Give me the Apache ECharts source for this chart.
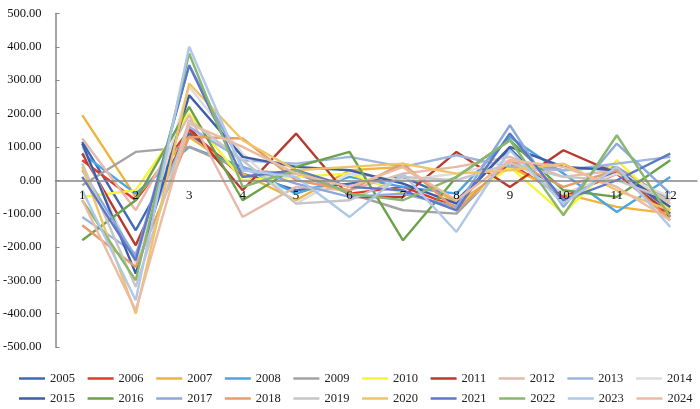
<!DOCTYPE html>
<html>
<head>
<meta charset="utf-8">
<script src="https://cdn.jsdelivr.net/npm/echarts@6/dist/echarts.min.js"></script>
<style>html,body{margin:0;padding:0;background:#fff}#c{width:700px;height:409px}</style>
</head>
<body>
<div id="c"></div>
<script>
const months = ['1','2','3','4','5','6','7','8','9','10','11','12'];
const years = ['2005','2006','2007','2008','2009','2010','2011','2012','2013','2014',
               '2015','2016','2017','2018','2019','2020','2021','2022','2023','2024'];
const yTicks = [-500,-400,-300,-200,-100,0,100,200,300,400,500];

const v2005 = [115, -150, 140, 20, -30, -10, 10, -60, 95, -60, 30, -90];
const v2006 = [60, -60, 150, 10, 30, -40, -20, -80, 50, -50, 20, -110];
const v2007 = [195, -50, 130, 20, -60, 30, 40, -70, 40, -40, -80, -100];
const v2008 = [80, -40, 100, 40, -40, 10, -20, -40, 130, 20, -95, 10];
const v2009 = [-15, 85, 100, 30, 20, -40, -90, -100, 60, 30, 40, -60];
const v2010 = [-50, -30, 200, 0, 10, 20, -40, -80, 40, -100, 60, -90];
const v2011 = [80, -195, 160, -30, 140, -50, -50, 85, -20, 90, 20, -100];
const v2012 = [125, -90, 195, -110, -20, -30, 20, 40, 70, 10, 30, -70];
const v2013 = [-110, -220, 160, 60, 50, 70, 40, 75, 40, 30, 50, 70];
const v2014 = [100, -250, 280, 80, -70, 20, 0, 20, 60, -40, 20, -50];
const v2015 = [110, -280, 255, 70, 40, 30, -10, -70, 100, 40, 30, -80];
const v2016 = [-180, -60, 220, -60, 40, 85, -180, 10, 120, -30, -50, 60];
const v2017 = [30, -230, 345, 40, -10, -50, -40, -80, 165, -80, 110, -40];
const v2018 = [-135, -260, 130, 125, 0, -30, 50, -90, 60, -20, 30, -120];
const v2019 = [50, -320, 180, 60, -70, -60, 10, 0, 50, 10, 0, -60];
const v2020 = [40, -400, 290, 120, 30, 40, 50, 20, 30, 50, -30, -90];
const v2021 = [10, -240, 345, 10, 30, -20, -30, -90, 140, -60, 0, 80];
const v2022 = [-60, -300, 380, -20, 30, -40, -60, 10, 120, -105, 135, -110];
const v2023 = [-30, -360, 400, 30, 10, -110, 20, -155, 90, -70, 40, -140];
const v2024 = [-60, -390, 170, 100, 20, -20, 40, -60, 60, 40, -20, -120];

const values = [v2005,v2006,v2007,v2008,v2009,v2010,v2011,v2012,v2013,v2014,
                v2015,v2016,v2017,v2018,v2019,v2020,v2021,v2022,v2023,v2024];
const colors = ['#3F69B5','#E8372B','#F0B43C','#4AA6E2','#A3A3A3','#F7F53A','#B73A2C','#E6B9AB','#9CB6E0','#DCDCDC',
                '#3C5DA8','#6BA24A','#8DA8DC','#E59E6B','#C6C6C6','#F0C465','#5D78C6','#88B870','#AFC7E8','#EBBBA3'];

const font = 'Liberation Serif';
const gridTop = 13.5, gridBottom = 62, H = 409;
const plotH = H - gridTop - gridBottom;
const chart = echarts.init(document.getElementById('c'), null, {renderer: 'canvas'});
const legendCommon = {
  left: 14, width: 690, itemWidth: 26, itemHeight: 12, itemGap: 12.6,
  icon: 'path://M0,5 L26,5 L26,7.5 L0,7.5 Z',
  textStyle: {fontFamily: font, fontSize: 12.5, color: '#222', width: 26, overflow: 'none'}
};
chart.setOption({
  animation: false,
  color: colors,
  grid: {left: 53, right: 3, top: gridTop, bottom: gridBottom, containLabel: false},
  legend: [
    Object.assign({data: years.slice(0, 10), top: 367}, legendCommon),
    Object.assign({data: years.slice(10), top: 387}, legendCommon)
  ],
  xAxis: {
    type: 'category', data: months, boundaryGap: true, z: 10,
    offset: -plotH / 2,
    axisLine: {onZero: false, lineStyle: {color: '#888', width: 1.5}},
    axisTick: {inside: true, length: 4, lineStyle: {color: '#888'}},
    axisLabel: {fontFamily: font, fontSize: 13, color: '#111', margin: 9}
  },
  yAxis: {
    type: 'value', min: yTicks[0], max: yTicks[yTicks.length - 1], interval: 100,
    splitLine: {show: false},
    axisLine: {show: true, lineStyle: {color: '#888', width: 1.5}},
    axisTick: {show: true, inside: true, length: 4, lineStyle: {color: '#888'}},
    axisLabel: {fontFamily: font, fontSize: 12.5, color: '#111', margin: 14,
      formatter: v => v.toFixed(2)}
  },
  series: years.map((y, i) => ({
    name: y, type: 'line', data: values[i], symbol: 'none', showSymbol: false,
    lineStyle: {width: 2.4, color: colors[i]}, itemStyle: {color: colors[i]}
  }))
});
</script>
</body>
</html>
